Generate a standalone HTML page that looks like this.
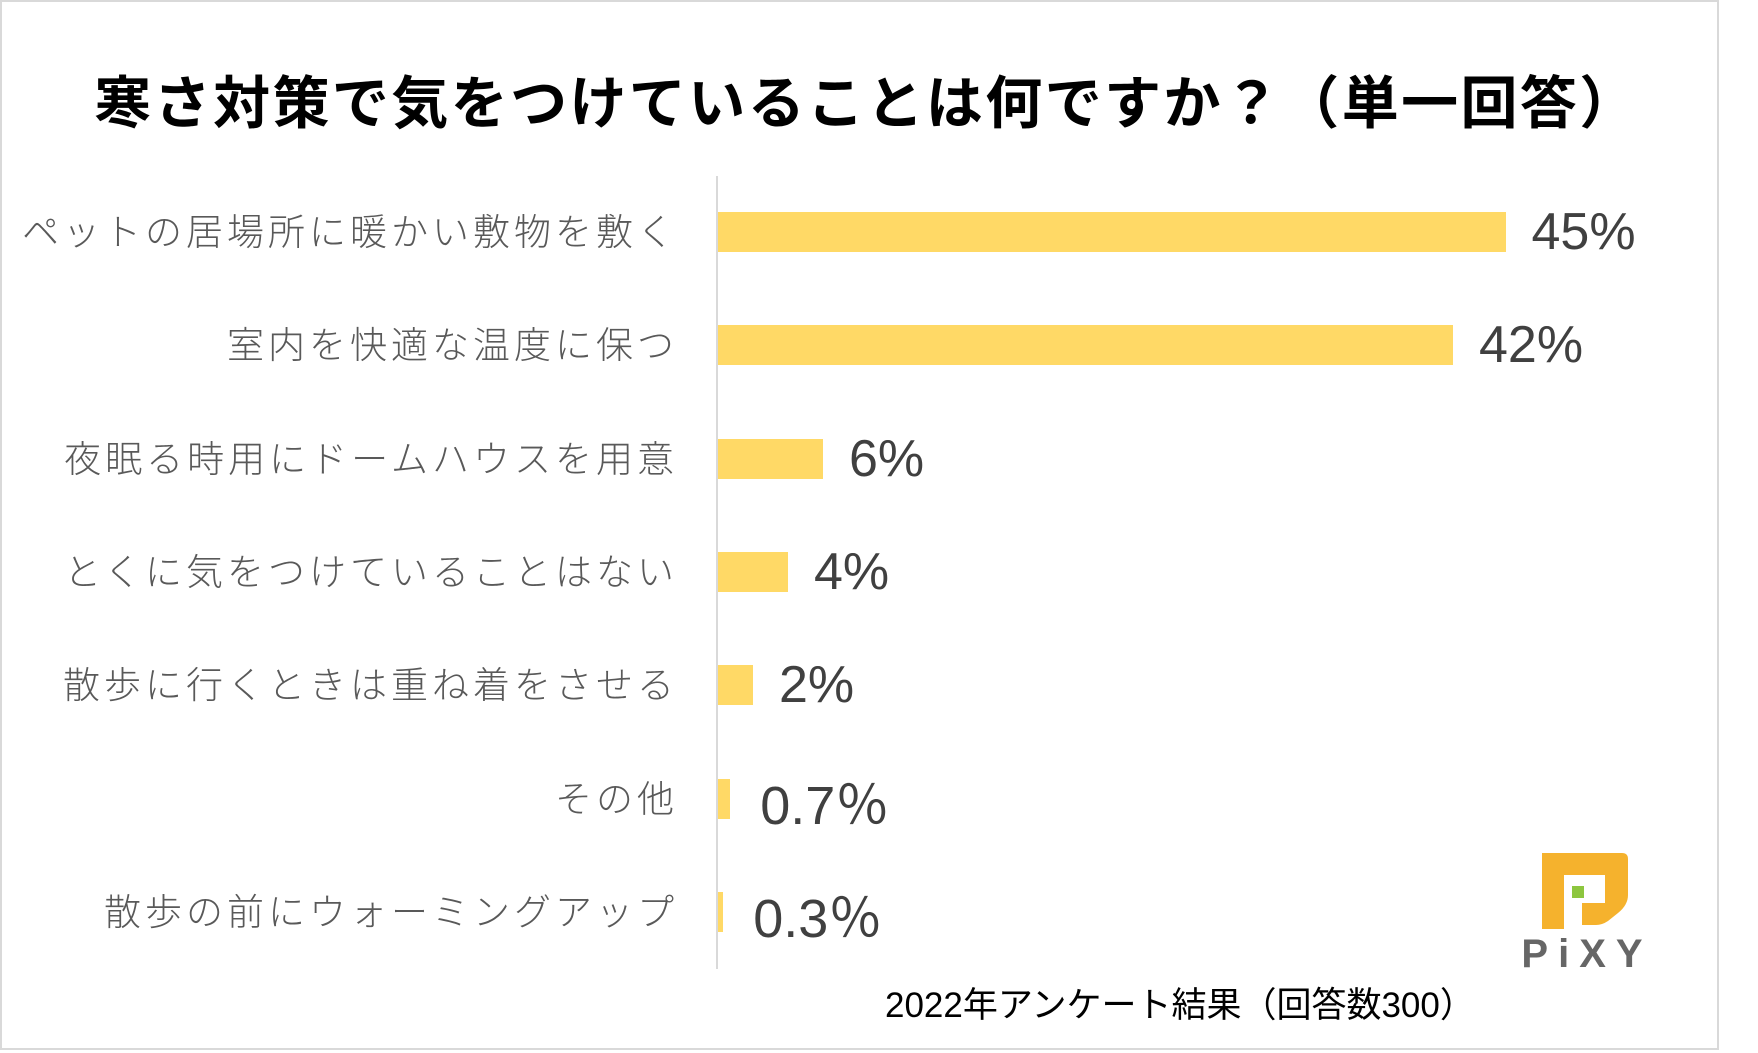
<!DOCTYPE html>
<html><head><meta charset="utf-8">
<style>
html,body{margin:0;padding:0;background:#fff;}
body{width:1758px;height:1053px;position:relative;overflow:hidden;font-family:"Liberation Sans","Noto Sans CJK JP",sans-serif;}
#frame{position:absolute;left:0;top:0;width:1715px;height:1046px;border:2px solid #d9d9d9;}
#title{position:absolute;left:8px;width:1717px;top:58px;text-align:center;font-size:57px;font-weight:bold;color:#000;letter-spacing:2.4px;}
.lab{position:absolute;right:1080px;font-size:37px;color:#595959;letter-spacing:4px;white-space:nowrap;font-weight:300;}
.val{position:absolute;font-size:52px;color:#404040;white-space:nowrap;}
.bar{position:absolute;background:#ffd966;}
#axis{position:absolute;left:716px;top:176px;width:2px;height:793px;background:#d9d9d9;}
#foot{position:absolute;left:885px;top:977px;font-size:35px;color:#000;white-space:nowrap;}
</style></head><body>
<div id="frame"></div>
<div id="title">寒さ対策で気をつけていることは何ですか？（単一回答）</div>
<div id="axis"></div>
<div id="chart"></div>
<div id="foot">2022年アンケート結果（回答数300）</div>
<svg style="position:absolute;left:1500px;top:845px" width="170" height="130">
<path d="M42 8 H122 Q128 8 128 14 V50 Q128 60 118 68 L108 76 Q102 80 96 80 H82 V58 H105 V30 H64 V84 H42 Z" fill="#f5b22d"/>
<rect x="72" y="41" width="12" height="12" fill="#8dc63f"/>
<text x="87" y="122" text-anchor="middle" font-family="Liberation Sans, sans-serif" font-weight="bold" font-size="40" fill="#666" letter-spacing="10">PiXY</text>
</svg>
<script>
const categories=["ペットの居場所に暖かい敷物を敷く","室内を快適な温度に保つ","夜眠る時用にドームハウスを用意","とくに気をつけていることはない","散歩に行くときは重ね着をさせる","その他","散歩の前にウォーミングアップ"];
const values=[45,42,6,4,2,0.7,0.3];
const valueLabels=["45%","42%","6%","4%","2%","0.7％","0.3％"];
const chart=document.getElementById('chart');
const x0=718, pxPer=17.5, yTop=232, step=113.3, barH=40;
function xs(v){return x0+v*pxPer;}
function ys(i){return yTop+i*step;}
categories.forEach((c,i)=>{
  const cy=ys(i);
  const b=document.createElement('div');
  b.className='bar';
  
  
  b.style.left=x0+'px';b.style.top=(cy-barH/2)+'px';b.style.height=barH+'px';
  b.style.width=Math.max(4,xs(values[i])-x0)+'px';
  chart.appendChild(b);
  const l=document.createElement('div');
  l.className='lab';
  
  
  l.textContent=c;l.style.top=(cy-30)+'px';
  chart.appendChild(l);
  const v=document.createElement('div');
  v.className='val';
  
  
  v.textContent=valueLabels[i];
  const small=values[i]<1;
  v.style.left=(xs(values[i])+(small?30:26))+'px';v.style.top=(cy-(small?38:30))+'px';
  if(small)v.style.fontSize='54px';
  chart.appendChild(v);
});
</script>
</body></html>
